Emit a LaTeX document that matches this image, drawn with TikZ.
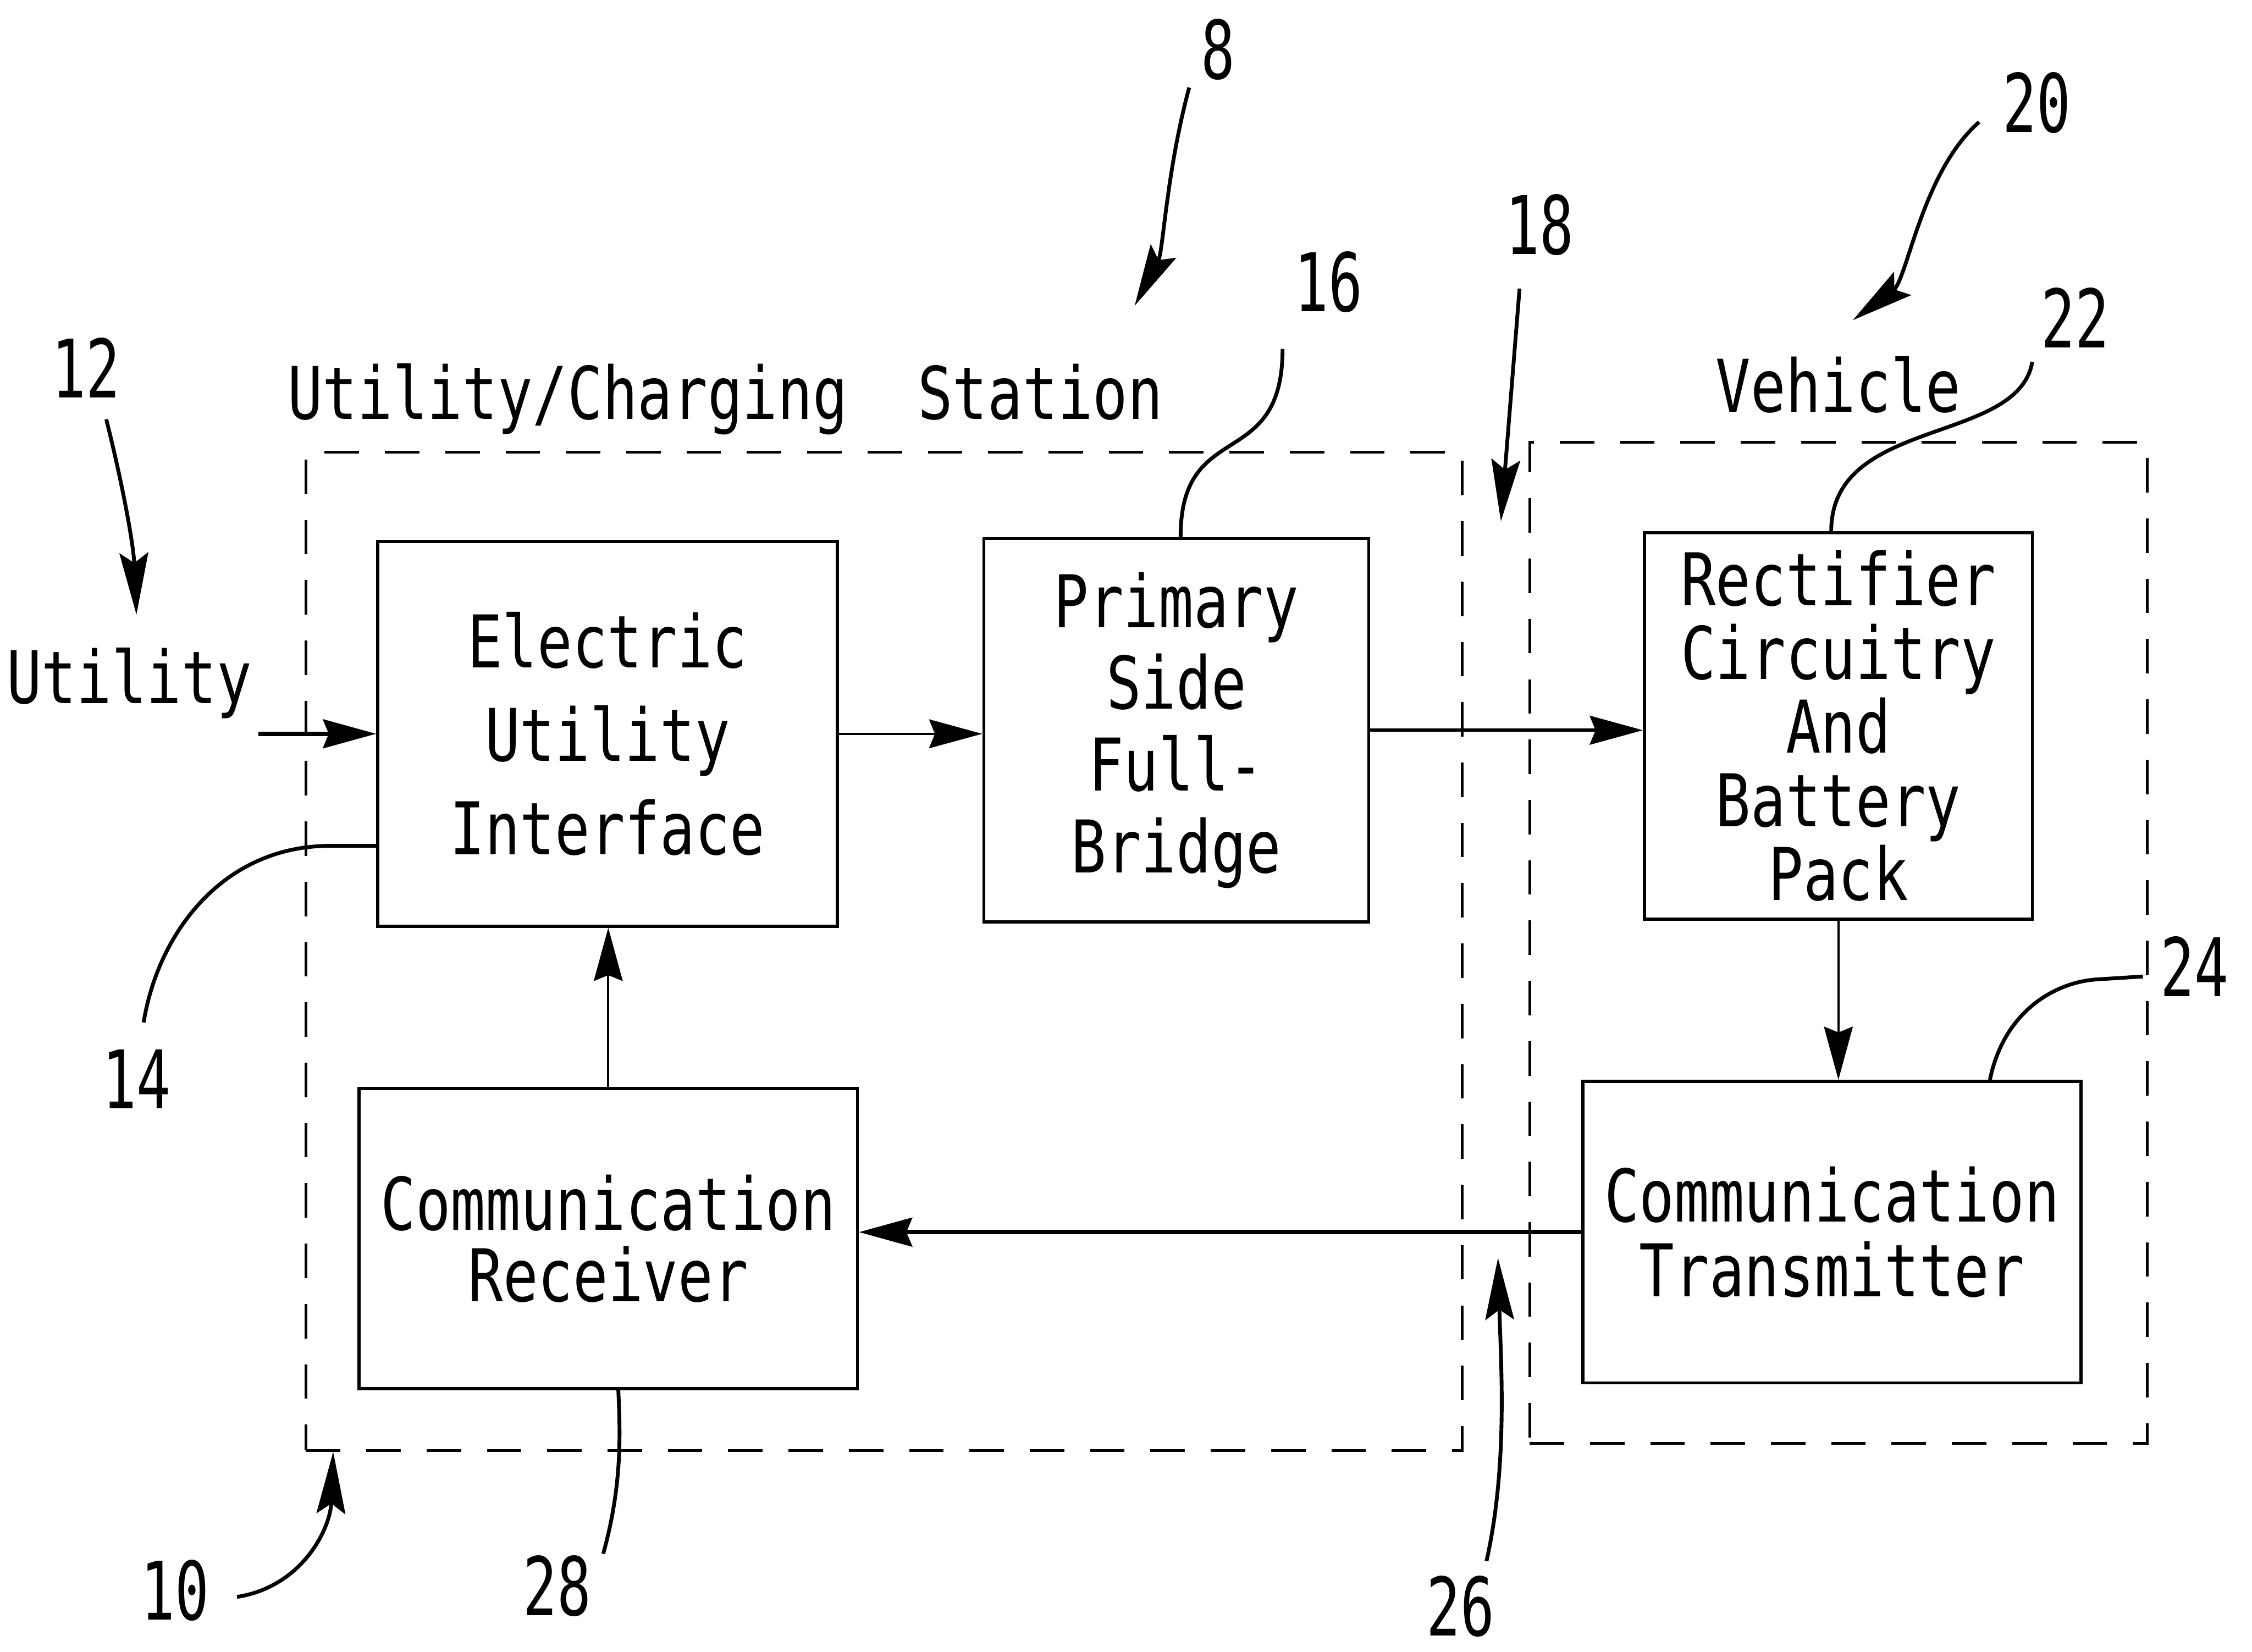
\documentclass[tikz,border=0pt]{standalone}
\usepackage{fontspec}
\usepackage{tikz}
\usetikzlibrary{arrows.meta, positioning, calc}
\newfontfamily\leroy[FakeStretch=0.8]{DejaVu Sans Mono}
\newfontfamily\leroynum[FakeStretch=0.7]{DejaVu Sans Mono}
\newcommand{\boxfont}[1]{\leroy\fontsize{14.4}{#1}\selectfont}
\tikzset{
    unitblock/.style={rectangle, draw=black, fill=white, line width=0.6pt, align=center, inner sep=0pt},
    zonebox/.style={rectangle, draw=black, line width=0.55pt, dash pattern=on 2.4mm off 1.8mm, inner sep=0pt},
    flowarrow/.style={-{Stealth[length=3.7mm, width=2mm, inset=0.4mm]}, line width=0.45pt},
    refarrow/.style={-{Stealth[length=4.3mm, width=2mm, inset=0.7mm]}, line width=0.75pt},
    leader/.style={line width=0.75pt},
    refnum/.style={font=\leroynum\fontsize{16}{18}\selectfont, inner sep=0pt, anchor=base},
    zonetitle/.style={font=\boxfont{17}, inner sep=0pt, anchor=base}
}

\begin{document}
\begin{tikzpicture}
\useasboundingbox (0,0) rectangle (15.68,11.50);

\node[zonebox, minimum width=8.05cm, minimum height=6.95cm] (station) at (6.155,4.875) {};
\node[zonebox, minimum width=4.30cm, minimum height=6.97cm] (vehicle) at (12.80,4.935) {};

\node[zonetitle] (stationtitle) at (5.05,8.58) {Utility/Charging\ \ Station};
\node[zonetitle] (vehicletitle) at (12.80,8.63) {Vehicle};
\node[zonetitle] (utilitytext) at (0.90,6.60) {Utility};

\node[unitblock, minimum width=3.20cm, minimum height=2.68cm, font=\boxfont{18.5}] (eui) at (4.23,6.39) {Electric\\Utility\\Interface};
\node[unitblock, minimum width=2.68cm, minimum height=2.67cm, font=\boxfont{16.2}] (psfb) at (8.19,6.415) {Primary\\Side\\Full-\\Bridge};
\node[unitblock, minimum width=2.70cm, minimum height=2.69cm, font=\boxfont{14.6}] (rect) at (12.80,6.445) {Rectifier\\Circuitry\\And\\Battery\\Pack};
\node[unitblock, minimum width=3.47cm, minimum height=2.09cm, font=\boxfont{14.2}] (crx) at (4.235,2.875) {Communication\\Receiver};
\node[unitblock, minimum width=3.47cm, minimum height=2.10cm, font=\boxfont{14.8}] (ctx) at (12.755,2.92) {Communication\\Transmitter};

\coordinate (utilin) at (1.80,6.39);
\draw[flowarrow, line width=0.9pt] (utilin) -- (utilin -| eui.west);
\draw[flowarrow] (eui.east) -- (eui.east -| psfb.west);
\draw[flowarrow, line width=0.7pt] (psfb.east) -- (psfb.east -| rect.west);
\draw[flowarrow] (rect.south) -- (rect.south |- ctx.north);
\draw[flowarrow, line width=0.9pt] (ctx.west) -- (ctx.west -| crx.east);
\draw[flowarrow] (crx.north) -- (crx.north |- eui.south);

\node[refnum] (n8) at (8.48,10.95) {8};
\node[refnum] (n12) at (0.60,8.73) {12};
\node[refnum] (n16) at (9.25,9.33) {16};
\node[refnum] (n18) at (10.72,9.73) {18};
\node[refnum] (n20) at (14.18,10.58) {20};
\node[refnum] (n22) at (14.45,9.08) {22};
\node[refnum] (n24) at (15.28,4.56) {24};
\node[refnum] (n14) at (0.95,3.78) {14};
\node[refnum] (n10) at (1.22,0.22) {10};
\node[refnum] (n28) at (3.88,0.25) {28};
\node[refnum] (n26) at (10.17,0.11) {26};

\coordinate (from12) at (0.74,8.58);
\coordinate (tip12) at (0.95,7.22);
\coordinate (from8) at (8.28,10.89);
\coordinate (tip8) at (7.90,9.37);
\coordinate (from16) at (8.93,9.07);
\coordinate (from18) at (10.58,9.49);
\coordinate (tip18) at (10.45,7.87);
\coordinate (from20) at (13.78,10.65);
\coordinate (tip20) at (12.90,9.27);
\coordinate (from22) at (14.15,8.98);
\coordinate (from24) at (14.92,4.70);
\coordinate (from14) at (1.00,4.38);
\coordinate (from10) at (1.65,0.38);
\coordinate (tip10) at (2.32,1.39);
\coordinate (from28) at (4.20,0.68);
\coordinate (from26) at (10.35,0.63);
\coordinate (tip26) at (10.43,2.74);

\draw[refarrow] (from12) .. controls (0.86,8.10) and (0.93,7.70) .. (tip12);
\draw[refarrow] (from8) .. controls (8.12,10.30) and (8.10,9.75) .. (tip8);
\draw[refarrow] (from18) -- (tip18);
\draw[refarrow] (from20) .. controls (13.38,10.30) and (13.28,9.55) .. (tip20);
\draw[refarrow] (from10) .. controls (2.10,0.45) and (2.30,0.85) .. (tip10);
\draw[refarrow] (from26) .. controls (10.50,1.30) and (10.45,2.00) .. (tip26);

\draw[leader] (from16) .. controls (8.93,8.20) and (8.22,8.60) .. ($(psfb.north)+(0.03,0)$);
\draw[leader] (from22) .. controls (14.05,8.40) and (12.75,8.60) .. ($(rect.north)+(-0.05,0)$);
\draw[leader] (from24) -- (14.60,4.68) .. controls (14.30,4.66) and (13.95,4.45) .. ($(ctx.north)+(1.10,0)$);
\draw[leader] (from14) .. controls (1.10,5.00) and (1.55,5.61) .. (2.30,5.61) -- ($(eui.west)+(0,-0.78)$);
\draw[leader] (from28) .. controls (4.33,1.15) and (4.32,1.50) .. ($(crx.south)+(0.07,0)$);

\end{tikzpicture}
\end{document}
